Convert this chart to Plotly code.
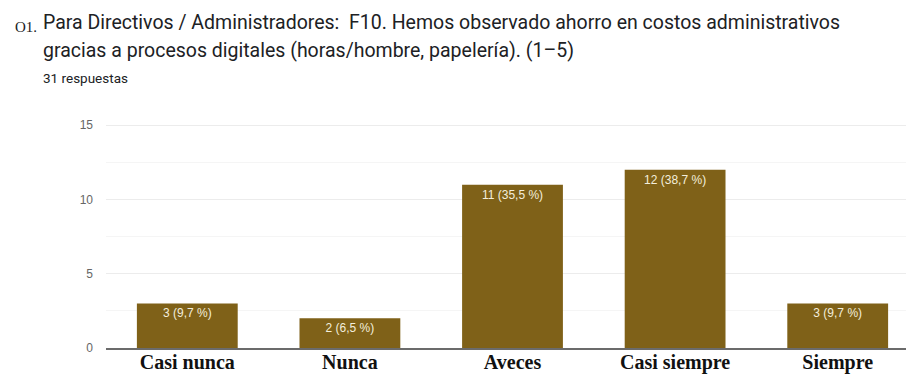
import plotly.graph_objects as go

categories = ["Casi nunca", "Nunca", "Aveces", "Casi siempre", "Siempre"]
counts = [3, 2, 11, 12, 3]
percents = ["9,7", "6,5", "35,5", "38,7", "9,7"]
y_ticks = [0, 5, 10, 15]

labels = [f"{c} ({p} %)" for c, p in zip(counts, percents)]

W, H = 906, 374
L, R, T, B = 106, 0, 123, 26
PW, PH = W - L - R, H - T - B


def px(x):
    return (x - L) / PW


def py(y):
    return (H - B - y) / PH


fig = go.Figure()
fig.add_trace(go.Bar(
    x=categories, y=counts, text=labels,
    textposition="inside", insidetextanchor="end",
    textfont=dict(family="Liberation Sans, Arial", size=12, color="#f3eedc"),
    marker=dict(color="#7f6118", line=dict(width=0)),
    width=0.62, hoverinfo="skip",
))

fig.update_layout(
    width=W, height=H,
    margin=dict(l=L, r=R, t=T, b=B, autoexpand=False),
    paper_bgcolor="white", plot_bgcolor="white",
    showlegend=False,
    xaxis=dict(
        range=[-0.5, 4.42], showgrid=False, showline=True, linecolor="#6b6b6b",
        linewidth=2, ticks="", automargin=False,
        tickfont=dict(family="Liberation Serif", size=20, color="#111111", weight="bold"),
        ticklabelstandoff=-5,
    ),
    yaxis=dict(
        range=[0, 15.15], tickvals=y_ticks, showgrid=True, gridcolor="#ececec", gridwidth=1,
        minor=dict(dtick=2.5, showgrid=True, gridcolor="#f5f5f5", gridwidth=1),
        zeroline=False, showline=False, ticks="", automargin=False,
        tickfont=dict(family="Liberation Sans, Arial", size=12, color="#666666"),
        ticklabelstandoff=12,
    ),
)

title_font = dict(family="Roboto", size=19.5, color="#202124")
fig.add_annotation(text="O1.", xref="paper", yref="paper", x=px(13), y=py(27),
                   xanchor="left", yanchor="middle", showarrow=False,
                   font=dict(family="Liberation Serif", size=15, color="#202124"))
fig.add_annotation(text="Para Directivos / Administradores:  F10. Hemos observado ahorro en costos administrativos",
                   xref="paper", yref="paper", x=px(41), y=py(22),
                   xanchor="left", yanchor="middle", showarrow=False, font=title_font)
fig.add_annotation(text="gracias a procesos digitales (horas/hombre, papelería). (1–5)",
                   xref="paper", yref="paper", x=px(41), y=py(51),
                   xanchor="left", yanchor="middle", showarrow=False, font=title_font)
fig.add_annotation(text="31 respuestas",
                   xref="paper", yref="paper", x=px(41), y=py(78),
                   xanchor="left", yanchor="middle", showarrow=False,
                   font=dict(family="Roboto", size=13.5, color="#202124"))

fig.write_html("out.html")
